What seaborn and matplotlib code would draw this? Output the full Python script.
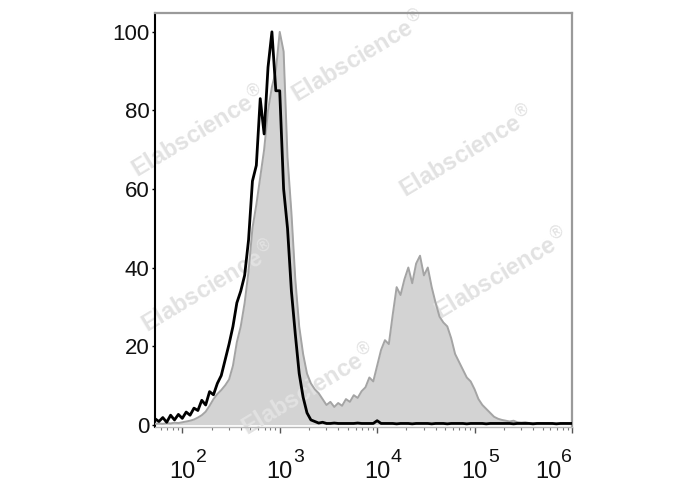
import matplotlib
matplotlib.use("Agg")

import matplotlib.pyplot as plt
import numpy as np
import pandas as pd
import seaborn as sns
from matplotlib.ticker import FixedLocator, LogLocator, NullFormatter

# fluorescence channel, log10 of intensity (histogram bins)
log_channel = np.round(np.arange(1.72, 6.0001, 0.04), 2)

# isotype control (black outline), % of max
control_pct = [
    1.5, 0.8, 1.8, 0.6, 2.4, 1.2, 2.6, 1.6, 3.2, 2.4,
    4.2, 3.6, 6.2, 5.0, 8.4, 7.6, 10.5, 12.5, 16.5, 20.5,
    25, 31, 34, 38, 47, 62, 66, 83, 74, 91,
    100, 85, 85, 60, 50, 34, 23, 13, 7, 3,
    1.2, 0.8, 0.4, 0.6, 0.3, 0.3, 0.4, 0.3, 0.3, 0.3,
    0.3, 0.3, 0.4, 0.3, 0.3, 0.3, 0.3, 1.0, 0.3, 0.3,
    0.3, 0.3, 0.2, 0.3, 0.3, 0.3, 0.2, 0.3, 0.3, 0.3,
    0.3, 0.2, 0.3, 0.3, 0.3, 0.2, 0.3, 0.3, 0.3, 0.3,
    0.2, 0.3, 0.3, 0.3, 0.3, 0.2, 0.3, 0.3, 0.3, 0.3,
    0.3, 0.3, 0.2, 0.3, 0.3, 0.3, 0.3, 0.2, 0.3, 0.3,
    0.3, 0.3, 0.3, 0.2, 0.3, 0.3, 0.3, 0.3,
]

# stained sample (grey filled), % of max
stained_pct = [
    0.2, 0.3, 0.2, 0.4, 0.3, 0.5, 0.4, 0.6, 0.8, 1.0,
    1.3, 1.8, 2.4, 3.3, 4.8, 6.5, 7.8, 8.8, 10.0, 11.5,
    15, 21, 25, 31, 39, 50, 56, 63, 70, 80,
    86, 90, 100, 95, 68, 54, 37, 25, 18, 13,
    10.5, 9, 8, 6.5, 5, 5.8, 4.5, 5.5, 4.8, 6.5,
    5.8, 7.5, 6.8, 8.5, 9.5, 12, 11, 15, 19, 21.5,
    20.5, 28, 35, 33, 37, 40, 36, 41, 43, 38,
    40, 35, 31, 27.5, 26, 25, 22, 18, 16, 14,
    12, 11, 9, 6.5, 5, 4, 3, 2, 1.5, 1.2,
    1.0, 0.8, 1.0, 0.6, 0.5, 0.6, 0.4, 0.4, 0.3, 0.4,
    0.3, 0.3, 0.2, 0.3, 0.2, 0.3, 0.2, 0.2,
]

y_ticks = [0, 20, 40, 60, 80, 100]
decades = [2, 3, 4, 5, 6]

watermark_text = "Elabscience$^{\u00ae}$"
# watermark centres in axes fraction
watermark_spots = [
    (0.104, 0.712), (0.488, 0.893), (0.747, 0.664),
    (0.128, 0.338), (0.831, 0.369), (0.368, 0.089),
]

df = pd.DataFrame({
    "intensity": 10 ** log_channel,
    "control": control_pct,
    "stained": stained_pct,
})

sns.set_theme(style="white")
plt.rcParams["font.family"] = ["Liberation Sans", "DejaVu Sans"]

fig = plt.figure(figsize=(6.88, 4.90), dpi=100)
ax = fig.add_axes([0.2253, 0.1286, 0.6061, 0.8449])

ax.fill_between(df["intensity"], 0, df["stained"], color="#d3d3d3", lw=0, zorder=1)
sns.lineplot(data=df, x="intensity", y="stained", color="#a4a4a4", lw=1.4, ax=ax, zorder=3)
sns.lineplot(data=df, x="intensity", y="control", color="black", lw=2.0, ax=ax, zorder=4)

for xf, yf in watermark_spots:
    ax.text(xf, yf, watermark_text, transform=ax.transAxes, rotation=31,
            rotation_mode="anchor", ha="center", va="center", fontsize=17,
            fontweight="bold", color="#e2e2e2", zorder=2, clip_on=False)

ax.set_xscale("log")
ax.set_xlim(10 ** 1.72, 10 ** 6.0)
ax.set_ylim(-0.6, 104.8)
ax.set_xlabel("")
ax.set_ylabel("")

ax.xaxis.set_major_locator(FixedLocator([10 ** d for d in decades]))
ax.xaxis.set_minor_locator(LogLocator(base=10, subs=np.arange(2, 10), numticks=20))
ax.xaxis.set_major_formatter(NullFormatter())
ax.xaxis.set_minor_formatter(NullFormatter())
ax.set_yticks(y_ticks)
ax.set_yticklabels([str(v) for v in y_ticks], fontsize=16, color="#111111")

ax.tick_params(axis="x", which="major", bottom=True, direction="out", length=4, width=1, color="#555555")
ax.tick_params(axis="x", which="minor", bottom=True, direction="out", length=2.5, width=0.8, color="#777777")
ax.tick_params(axis="y", which="major", left=True, direction="out", length=2.5, width=1, color="black", pad=1.5)

for side in ["top", "right"]:
    ax.spines[side].set_color("#9a9a9a")
    ax.spines[side].set_linewidth(1.6)
ax.spines["left"].set_color("black")
ax.spines["left"].set_linewidth(1.5)
ax.spines["bottom"].set_color("#b8b8b8")
ax.spines["bottom"].set_linewidth(1.0)

# decade labels drawn as 10 + raised exponent
for d in decades:
    shift = -17.3 if d == decades[-1] else 0.0
    ax.annotate("10", xy=(10 ** d, 0), xycoords=("data", "axes fraction"),
                xytext=(shift, -36.7), textcoords="offset points",
                ha="center", va="baseline", fontsize=17, color="#111111",
                annotation_clip=False)
    ax.annotate(str(d), xy=(10 ** d, 0), xycoords=("data", "axes fraction"),
                xytext=(shift + 9.7, -25.2), textcoords="offset points",
                ha="left", va="baseline", fontsize=14, color="#111111",
                annotation_clip=False)

fig.savefig("out.png", dpi=100)
plt.close(fig)
